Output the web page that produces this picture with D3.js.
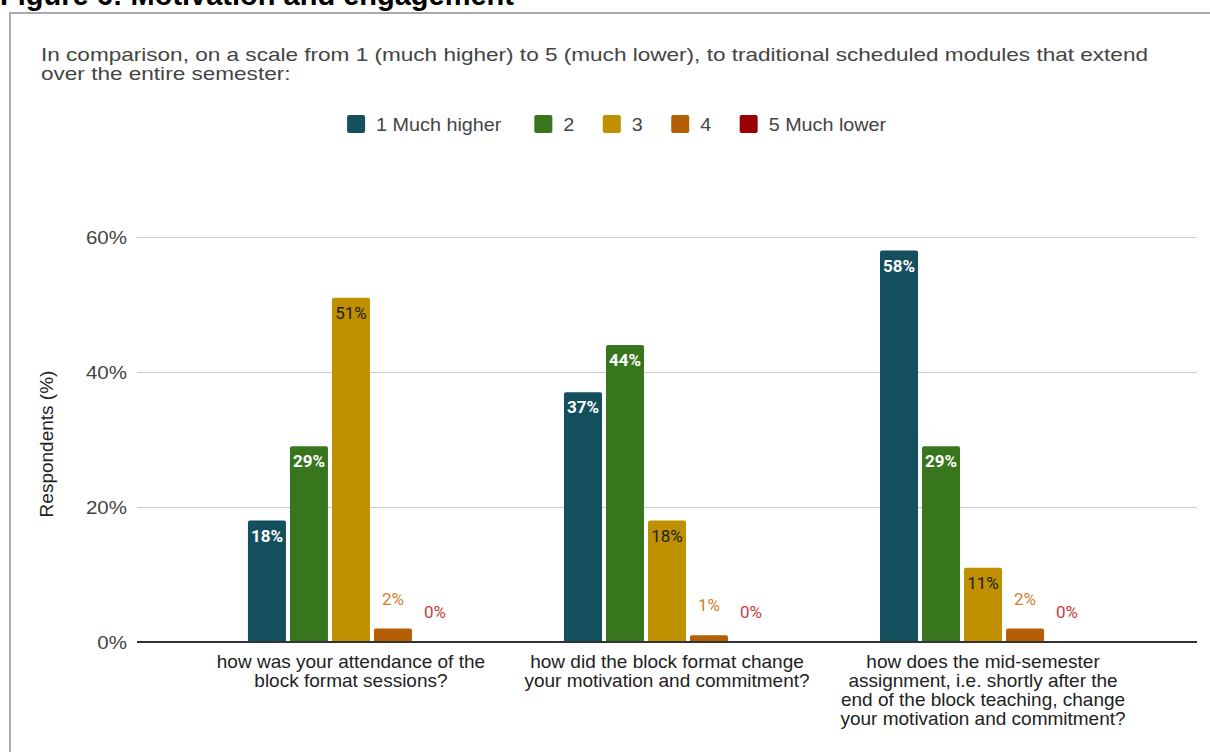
<!DOCTYPE html>
<html>
<head>
<meta charset="utf-8">
<script src="https://cdn.jsdelivr.net/npm/d3@7"></script>
<style>
  body { margin: 0; background: #fff; }
  svg { display: block; font-family: 'Liberation Sans', Arial, sans-serif; }
</style>
</head>
<body>
<svg id="chart" width="1210" height="752"></svg>
<script>
// categories (x axis labels, already broken into lines)
var categories = [
    ['how was your attendance of the', 'block format sessions?'],
    ['how did the block format change', 'your motivation and commitment?'],
    ['how does the mid-semester', 'assignment, i.e. shortly after the', 'end of the block teaching, change', 'your motivation and commitment?']
]
var seriesNames = ['1 Much higher', '2', '3', '4', '5 Much lower']
var seriesColors = ['#134f5c', '#38761d', '#bf9000', '#b45f06', '#990000']

// respondents (%) per category, one array per answer
var muchHigher = [18, 37, 58]
var two = [29, 44, 29]
var three = [51, 18, 11]
var four = [2, 1, 2]
var muchLower = [0, 0, 0]
var series = [muchHigher, two, three, four, muchLower]

var yTicks = [0, 20, 40, 60]

var figureTitle = 'Figure 6: Motivation and engagement'
var subtitleLines = [
    'In comparison, on a scale from 1 (much higher) to 5 (much lower), to traditional scheduled modules that extend',
    'over the entire semester:'
]
var yTitle = 'Respondents (%)'

var svg = d3.select('#chart')

var plotLeft = 137, plotRight = 1197, plotTop = 237, plotBottom = 642

// widen a text a bit, the source font runs wider than Arial
function stretch(sel, factor) {
    sel.each(function () {
        var w = this.getComputedTextLength()
        d3.select(this)
            .attr('textLength', w * factor)
            .attr('lengthAdjust', 'spacingAndGlyphs')
    })
}

// cut-off figure caption + frame
svg.append('text')
    .attr('x', 0)
    .attr('y', 5)
    .style('font-size', '29px')
    .style('font-weight', 'bold')
    .style('fill', '#000')
    .text(figureTitle)

svg.append('path')
    .attr('d', 'M10,760 L10,13 L1212,13')
    .style('fill', 'none')
    .style('stroke', '#aaaaaa')
    .style('stroke-width', 2)

// subtitle
var sub = svg.selectAll('.subtitle')
    .data(subtitleLines)
    .enter()
    .append('text')
    .attr('class', 'subtitle')
    .attr('x', 41)
    .attr('y', function (d, i) { return 61 + i * 19 })
    .style('font-size', '19px')
    .style('fill', '#444')
    .text(function (d) { return d })
stretch(sub, 1107 / sub.node().getComputedTextLength())

// legend
var legend = svg.append('g')
var lx = 0
seriesNames.forEach(function (name, i) {
    var item = legend.append('g').attr('transform', 'translate(' + lx + ',0)')
    item.append('rect')
        .attr('x', 0)
        .attr('y', 115)
        .attr('width', 18)
        .attr('height', 18)
        .attr('rx', 2)
        .style('fill', seriesColors[i])
    var t = item.append('text')
        .attr('x', 29)
        .attr('y', 131)
        .style('font-size', '19px')
        .style('fill', '#444')
        .text(name)
    stretch(t, 1.04)
    lx += 29 + t.node().getComputedTextLength() * 1.04 + 28
})
var legendWidth = lx - 28
legend.attr('transform', 'translate(' + (619 - legendWidth / 2) + ',0)')

// scales
var x0 = d3.scaleBand()
    .domain(d3.range(categories.length))
    .range([plotLeft, plotRight])
    .paddingInner(0.348)
    .paddingOuter(0.351)

var x1 = d3.scaleBand()
    .domain(d3.range(seriesNames.length))
    .range([0, x0.bandwidth()])
    .paddingInner(0.095)
    .paddingOuter(0)

var y = d3.scaleLinear()
    .domain([0, 60])
    .range([plotBottom, plotTop])

// y axis + gridlines
var yAxis = svg.append('g')
    .attr('transform', 'translate(' + plotLeft + ',0)')
    .call(d3.axisLeft(y)
        .tickValues(yTicks)
        .tickFormat(function (d) { return d + '%' })
        .tickSize(-(plotRight - plotLeft))
        .tickPadding(10))
yAxis.select('.domain').remove()
yAxis.selectAll('.tick line').style('stroke', '#cccccc')
yAxis.selectAll('.tick text')
    .style('font-size', '19px')
    .style('fill', '#444')
    .style('font-family', "'Liberation Sans', Arial, sans-serif")
stretch(yAxis.selectAll('.tick text'), 1.08)

var yt = svg.append('text')
    .attr('transform', 'translate(53,444) rotate(-90)')
    .attr('text-anchor', 'middle')
    .style('font-size', '19px')
    .style('fill', '#222')
    .text(yTitle)

// bars
var groups = svg.selectAll('.group')
    .data(categories)
    .enter()
    .append('g')
    .attr('class', 'group')
    .attr('transform', function (d, i) { return 'translate(' + x0(i) + ',0)' })

groups.each(function (cat, ci) {
    var g = d3.select(this)
    var rows = series.map(function (s, si) { return { si: si, v: s[ci] } })
    g.selectAll('rect')
        .data(rows.filter(function (d) { return d.v > 0 }))
        .enter()
        .append('rect')
        .attr('x', function (d) { return x1(d.si) })
        .attr('y', function (d) { return y(d.v) })
        .attr('width', x1.bandwidth())
        .attr('height', function (d) { return y(0) - y(d.v) + 1 })
        .attr('rx', 2)
        .style('fill', function (d) { return seriesColors[d.si] })

    g.selectAll('.lbl')
        .data(rows)
        .enter()
        .append('text')
        .attr('class', 'lbl')
        .attr('x', function (d) { return x1(d.si) + x1.bandwidth() / 2 })
        .attr('y', function (d) { return d.v >= 5 ? y(d.v) + 21 : y(d.v) - 24 })
        .attr('text-anchor', 'middle')
        .style('font-family', 'Roboto, sans-serif')
        .style('font-size', '17px')
        .style('font-weight', function (d) { return (d.v >= 5 && d.si < 2) ? 'bold' : 'normal' })
        .style('fill', function (d) {
            if (d.v >= 5) return d.si < 2 ? '#ffffff' : '#1d1d1d'
            return d.si === 3 ? '#d0802f' : '#cc3b40'
        })
        .text(function (d) { return d.v + '%' })
})

// zero baseline
svg.append('line')
    .attr('x1', plotLeft)
    .attr('x2', plotRight)
    .attr('y1', y(0))
    .attr('y2', y(0))
    .style('stroke', '#333')
    .style('stroke-width', 2)

// x axis category labels
svg.selectAll('.xlabel')
    .data(categories)
    .enter()
    .append('text')
    .attr('class', 'xlabel')
    .attr('text-anchor', 'middle')
    .style('font-size', '19px')
    .style('fill', '#222')
    .each(function (lines, i) {
        var cx = x0(i) + x0.bandwidth() / 2
        d3.select(this).selectAll('tspan')
            .data(lines)
            .enter()
            .append('tspan')
            .attr('x', cx)
            .attr('y', function (d, j) { return 668 + j * 19 })
            .text(function (d) { return d })
    })
</script>
</body>
</html>
